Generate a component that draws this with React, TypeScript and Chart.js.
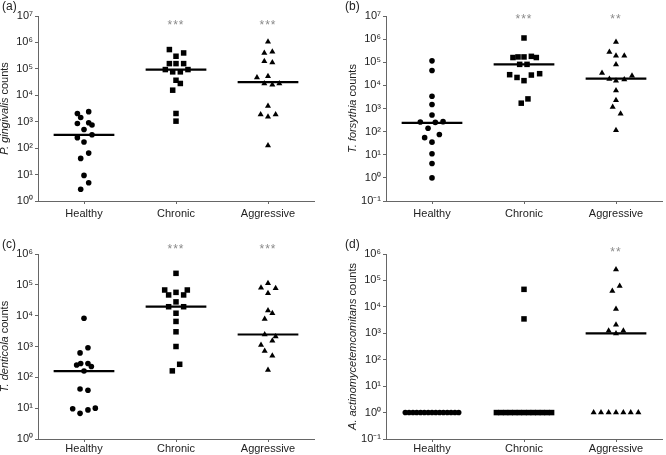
import React, { useEffect, useRef } from 'react';
import { Chart, registerables } from 'chart.js';

Chart.register(...registerables);

const FONT = '"Liberation Sans", Arial, Helvetica, sans-serif';

// ---------- categories ----------
const groups = ['Healthy', 'Chronic', 'Aggressive'];

// ---------- y tick values ----------
const ticksA = [1, 10, 100, 1e3, 1e4, 1e5, 1e6, 1e7];
const ticksB = [0.1, 1, 10, 100, 1e3, 1e4, 1e5, 1e6, 1e7];
const ticksC = [1, 10, 100, 1e3, 1e4, 1e5, 1e6];
const ticksD = [0.1, 1, 10, 100, 1e3, 1e4, 1e5, 1e6];

// ---------- (a) P. gingivalis ----------
const aHealthy = [2050, 2400, 1450, 860, 910, 750, 510, 320, 250, 170, 65, 41, 9.3, 4.9, 2.8];
const aHealthyJit = [-0.072, 0.051, -0.036, -0.072, 0.051, 0.087, 0, 0.087, -0.072, 0, 0.051, -0.036, 0, 0.051, -0.036];
const aChronic = [537000, 400000, 300000, 158000, 158000, 158000, 94000, 94000, 77000, 77000, 37000, 28000, 15600, 2050, 1050];
const aChronicJit = [-0.072, 0.083, 0, -0.072, 0, 0.083, -0.116, 0.13, -0.036, 0.047, 0, 0.047, -0.036, 0, 0];
const aAggressive = [1050000, 400000, 440000, 195000, 174000, 47000, 53000, 28000, 25000, 28000, 3900, 1880, 1540, 1880, 126];
const aAggressiveJit = [0, -0.04, 0.047, -0.04, 0.047, -0.12, 0, -0.04, 0.047, 0.123, 0, -0.08, 0, 0.083, 0];
const aMedians = [320, 94000, 31600];
const aSig = ['', '***', '***'];

// ---------- (b) T. forsythia ----------
const bHealthy = [115000, 44000, 3400, 1500, 520, 260, 250, 270, 140, 55, 75, 35, 11, 4.2, 1];
const bHealthyJit = [0, 0, 0, 0, 0, -0.127, 0.036, 0.12, -0.043, -0.08, 0.08, 0, 0, 0, 0];
const bChronic = [1120000, 160000, 170000, 170000, 180000, 160000, 81000, 81000, 29000, 22000, 16000, 28000, 32000, 1700, 2600];
const bChronicJit = [0, -0.12, -0.065, 0, 0.08, 0.134, -0.047, 0.033, -0.156, -0.076, 0, 0.08, 0.17, -0.03, 0.043];
const bAggressive = [760000, 280000, 190000, 190000, 79000, 34000, 19000, 16000, 18000, 26000, 6000, 2300, 1150, 600, 115];
const bAggressiveJit = [0, -0.072, 0, 0.09, 0, -0.152, -0.072, 0, 0.09, 0.174, 0, 0, -0.036, 0.05, 0];
const bMedians = [240, 81000, 19500];
const bSig = ['', '***', '**'];

// ---------- (c) T. denticola ----------
const cHealthy = [8200, 910, 620, 250, 280, 280, 225, 160, 42, 38, 9.6, 6.8, 8.8, 10];
const cHealthyJit = [0, 0.043, -0.043, -0.08, -0.036, 0.043, 0.08, 0, -0.043, 0.043, -0.123, -0.043, 0.043, 0.123];
const cChronic = [236000, 68000, 47000, 57000, 47000, 68000, 28000, 19500, 19500, 12000, 6500, 3000, 1000, 265, 162];
const cChronicJit = [0, -0.123, -0.08, 0, 0.083, 0.123, 0, -0.08, 0.083, 0, 0, 0, 0, 0.04, -0.04];
const cAggressive = [112000, 81000, 77000, 53000, 14800, 12000, 7800, 2450, 2100, 1540, 1120, 720, 500, 174];
const cAggressiveJit = [0, -0.076, 0.083, 0, 0, 0.047, -0.036, -0.036, 0.083, 0.047, -0.076, -0.036, 0.047, 0];
const cMedians = [160, 19500, 2450];
const cSig = ['', '***', '***'];

// ---------- (d) A. actinomycetemcomitans ----------
const dHealthy = [1, 1, 1, 1, 1, 1, 1, 1, 1, 1, 1, 1, 1, 1, 1];
const dHealthyJit = [-0.29, -0.249, -0.207, -0.166, -0.124, -0.083, -0.041, 0, 0.041, 0.083, 0.124, 0.166, 0.207, 0.249, 0.29];
const dChronic = [46000, 3500, 1, 1, 1, 1, 1, 1, 1, 1, 1, 1, 1, 1, 1];
const dChronicJit = [0, 0, -0.3, -0.25, -0.2, -0.15, -0.1, -0.05, 0, 0.05, 0.1, 0.15, 0.2, 0.25, 0.3];
const dAggressive = [260000, 62000, 40000, 8300, 2100, 1250, 1250, 980, 1, 1, 1, 1, 1, 1, 1];
const dAggressiveJit = [0, 0.04, -0.04, 0, 0, -0.08, 0.08, 0, -0.243, -0.163, -0.08, 0, 0.08, 0.16, 0.243];
const dMedians = [null, null, 1000];
const dSig = ['', '', '**'];

const SUP: Record<string, string> = {
  '0': '⁰', '1': '¹', '2': '²', '3': '³', '4': '⁴', '5': '⁵', '6': '⁶', '7': '⁷', '8': '⁸', '9': '⁹', '-': '⁻',
};
function powLabel(v: number) {
  const e = Math.round(Math.log10(v));
  return '10' + String(e).split('').map((c) => SUP[c] || c).join('');
}

type PanelCfg = {
  label: string;
  species: string;
  values: number[][];
  jitter: number[][];
  medians: (number | null)[];
  sig: string[];
  yTicks: number[];
  left: number;
  top: number;
  width: number;
  height: number;
  yAxisW: number;
  padTop: number;
  padRight: number;
  xAxisH: number;
  xLabelPad: number;
  labelX: number;
  labelY: number;
  sigY: number;
};

const panels: PanelCfg[] = [
  {
    label: '(a)', species: 'P. gingivalis',
    values: [aHealthy, aChronic, aAggressive], jitter: [aHealthyJit, aChronicJit, aAggressiveJit],
    medians: aMedians, sig: aSig, yTicks: ticksA,
    left: 0, top: 0, width: 333, height: 228, yAxisW: 38, padTop: 16, padRight: 19, xAxisH: 27, xLabelPad: 3,
    labelX: 2, labelY: 7, sigY: 6,
  },
  {
    label: '(b)', species: 'T. forsythia',
    values: [bHealthy, bChronic, bAggressive], jitter: [bHealthyJit, bChronicJit, bAggressiveJit],
    medians: bMedians, sig: bSig, yTicks: ticksB,
    left: 333, top: 0, width: 333, height: 228, yAxisW: 53, padTop: 16, padRight: 4, xAxisH: 27, xLabelPad: 3,
    labelX: 12, labelY: 7, sigY: 0,
  },
  {
    label: '(c)', species: 'T. denticola',
    values: [cHealthy, cChronic, cAggressive], jitter: [cHealthyJit, cChronicJit, cAggressiveJit],
    medians: cMedians, sig: cSig, yTicks: ticksC,
    left: 0, top: 228, width: 333, height: 227, yAxisW: 38, padTop: 26, padRight: 19, xAxisH: 16, xLabelPad: 0,
    labelX: 2, labelY: 17, sigY: -8,
  },
  {
    label: '(d)', species: 'A. actinomycetemcomitans',
    values: [dHealthy, dChronic, dAggressive], jitter: [dHealthyJit, dChronicJit, dAggressiveJit],
    medians: dMedians, sig: dSig, yTicks: ticksD,
    left: 333, top: 228, width: 333, height: 227, yAxisW: 53, padTop: 26, padRight: 4, xAxisH: 16, xLabelPad: 0,
    labelX: 12, labelY: 17, sigY: -5,
  },
];

const STYLES = ['circle', 'rect', 'triangle'];
const RADII = [2.8, 3.9, 3.5];
const AXIS = '#666';
const TEXT = '#222';

function Panel({ cfg }: { cfg: PanelCfg }) {
  const ref = useRef<HTMLCanvasElement>(null);
  useEffect(() => {
    if (!ref.current) return;
    const datasets: any[] = [];
    cfg.values.forEach((vals, g) => {
      datasets.push({
        type: 'scatter',
        data: vals.map((v, i) => ({ x: g + cfg.jitter[g][i], y: v })),
        pointStyle: STYLES[g],
        pointRadius: RADII[g],
        pointHoverRadius: RADII[g],
        backgroundColor: '#000',
        borderColor: '#000',
        borderWidth: 0,
        order: 1,
      });
    });
    cfg.medians.forEach((m, g) => {
      if (m == null) return;
      datasets.push({
        type: 'line',
        data: [{ x: g - 0.33, y: m }, { x: g + 0.33, y: m }],
        borderColor: '#000',
        borderWidth: 2.2,
        pointRadius: 0,
        fill: false,
        order: 0,
      });
    });

    const textPlugin = {
      id: 'panelText',
      afterDraw(chart: any) {
        const { ctx, chartArea, scales } = chart;
        ctx.save();
        // panel label
        ctx.font = `12px ${FONT}`;
        ctx.fillStyle = TEXT;
        ctx.textAlign = 'left';
        ctx.textBaseline = 'middle';
        ctx.fillText(cfg.label, cfg.labelX, cfg.labelY);
        // significance asterisks
        ctx.font = `12px ${FONT}`;
        ctx.fillStyle = '#8a8a8a';
        ctx.textAlign = 'center';
        ctx.textBaseline = 'alphabetic';
        try { (ctx as any).letterSpacing = '1px'; } catch (e) { /* ignore */ }
        cfg.sig.forEach((s, i) => {
          if (!s) return;
          ctx.fillText(s, scales.x.getPixelForValue(i), chartArea.top + cfg.sigY + 7);
        });
        try { (ctx as any).letterSpacing = '0px'; } catch (e) { /* ignore */ }
        // y-axis title (italic species + normal "counts")
        const cx = chartArea.left - 33;
        const cy = (chartArea.top + chartArea.bottom) / 2;
        ctx.translate(cx, cy);
        ctx.rotate(-Math.PI / 2);
        const fi = `italic 11px ${FONT}`;
        const fn = `11px ${FONT}`;
        const rest = ' counts';
        ctx.font = fi;
        const w1 = ctx.measureText(cfg.species).width;
        ctx.font = fn;
        const w2 = ctx.measureText(rest).width;
        const x0 = -(w1 + w2) / 2;
        ctx.textAlign = 'left';
        ctx.textBaseline = 'middle';
        ctx.fillStyle = TEXT;
        ctx.font = fi;
        ctx.fillText(cfg.species, x0, 0);
        ctx.font = fn;
        ctx.fillText(rest, x0 + w1, 0);
        ctx.restore();
      },
    };

    const chart = new Chart(ref.current, {
      type: 'scatter',
      data: { datasets },
      options: {
        animation: false,
        responsive: false,
        devicePixelRatio: 1,
        layout: { padding: { left: 0, top: cfg.padTop, right: cfg.padRight, bottom: 0 } },
        plugins: { legend: { display: false }, tooltip: { enabled: false } },
        events: [],
        scales: {
          x: {
            type: 'linear',
            min: -0.5,
            max: 2.5,
            afterBuildTicks: (s: any) => {
              s.ticks = [0, 1, 2].map((v) => ({ value: v }));
            },
            afterFit: (s: any) => {
              s.height = cfg.xAxisH;
            },
            ticks: {
              callback: (v: any) => groups[Math.round(Number(v))],
              color: TEXT,
              font: { family: FONT, size: 11 },
              padding: cfg.xLabelPad,
              maxRotation: 0,
              autoSkip: false,
            },
            grid: { display: true, drawOnChartArea: false, drawTicks: true, tickLength: 3, color: AXIS },
            border: { display: true, color: AXIS, width: 1 },
          },
          y: {
            type: 'logarithmic',
            min: cfg.yTicks[0],
            max: cfg.yTicks[cfg.yTicks.length - 1],
            afterBuildTicks: (s: any) => {
              s.ticks = cfg.yTicks.map((v) => ({ value: v }));
            },
            afterFit: (s: any) => {
              s.width = cfg.yAxisW;
            },
            ticks: {
              callback: (v: any) => powLabel(Number(v)),
              color: TEXT,
              font: { family: FONT, size: 11 },
              padding: 2,
              autoSkip: false,
            },
            grid: { display: true, drawOnChartArea: false, drawTicks: true, tickLength: 3, color: AXIS },
            border: { display: true, color: AXIS, width: 1 },
          },
        },
      } as any,
      plugins: [textPlugin],
    });
    return () => chart.destroy();
  }, [cfg]);

  return (
    <canvas
      ref={ref}
      width={cfg.width}
      height={cfg.height}
      style={{ position: 'absolute', left: cfg.left, top: cfg.top, width: cfg.width, height: cfg.height }}
    />
  );
}

export default function App() {
  return (
    <div style={{ position: 'absolute', left: 0, top: 0, width: 666, height: 455, background: '#fff', overflow: 'hidden' }}>
      {panels.map((p) => (
        <Panel key={p.label} cfg={p} />
      ))}
    </div>
  );
}
